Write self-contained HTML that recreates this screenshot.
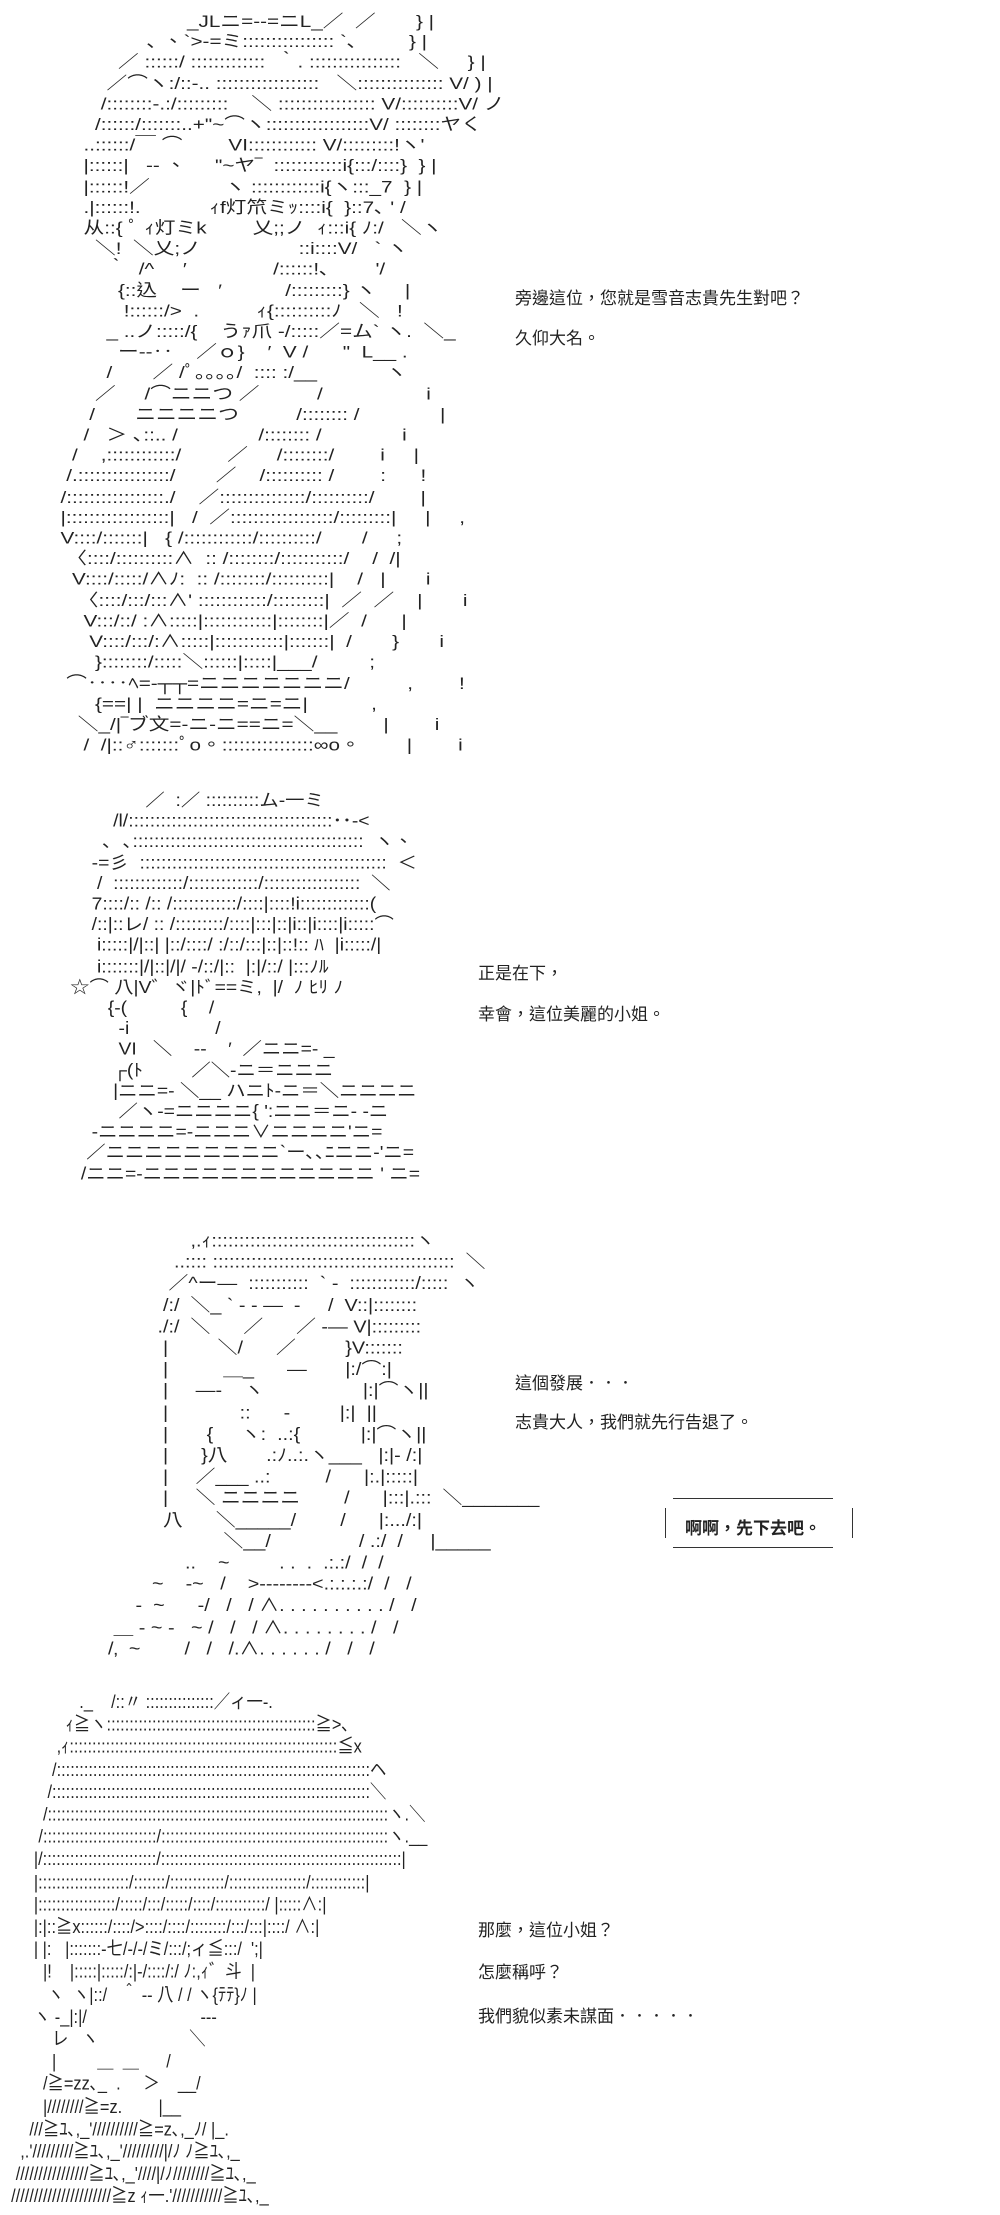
<!DOCTYPE html>
<html><head><meta charset="utf-8"><style>
html,body{margin:0;padding:0;background:#fff;width:1000px;height:2215px;overflow:hidden;position:relative}
pre{position:absolute;margin:0;font-family:"Liberation Sans","Noto Sans CJK TC",sans-serif;font-size:15px;line-height:18.2px;color:#222;white-space:pre;letter-spacing:0;transform-origin:0 0}
.t{position:absolute;font-family:"Liberation Sans","Noto Sans CJK TC",sans-serif;font-size:17px;color:#222;white-space:nowrap}
</style></head><body>
<pre style="left:49px;top:12px;transform:scale(1.38,1.136)">                        _JLニ=--=ニL_／  ／       } |
                 ､ 、`>‐=ミ:::::::::::::::: `､         } |
            ／ ::::::/ :::::::::::::  ｀. ::::::::::::::::   ＼     } |
          ／⌒ヽ:/::‐.. ::::::::::::::::::   ＼::::::::::::::: V/ ) |
         /::::::::‐.:/:::::::::    ＼ ::::::::::::::::: V/::::::::::V/ ノ
        /::::::/:::::::..+"~⌒ヽ::::::::::::::::::V/ ::::::::ヤく
      ..::::::/￣ ⌒        VI:::::::::::: V/:::::::::!ヽ'
      |::::::|   -- 、     "~ヤ‾  ::::::::::::i{:::/::::}  } |
      |::::::!／             ヽ ::::::::::::i{ヽ:::_7  } |
      .|::::::!.            ｨf灯笊ミｯ::::i{  }::7､ ' /
      从::{ ﾟ ｨ灯ミk        乂;;ノ  ｨ:::i{ ﾉ:/   ＼ヽ
        ＼!  ＼乂;ノ                 ::i::::V/   ` ヽ
          ｀  /^     ′               /::::::!､        '/
            {::込    ー   ′           /:::::::::} ヽ     |
             !::::::/>  .          ｨ{::::::::::ﾉ   ＼   !
          _ ..ノ:::::/{    うｧ爪 ‐/:::::／=ム` ヽ.  ＼_
            ー--‥    ／ｏ}    ′  V /      "  L__ .
          /       ／ /ﾟ｡｡｡｡/  :::: :/__            ヽ
        ／     /⌒ニニつ ／          /                  i
       /       ニニニニつ          /:::::::: /              |
      /   ＞ ､::.. /              /:::::::: /              i
    /    ,::::::::::::/        ／     /::::::::/        i     |
   /.::::::::::::::::/       ／    /:::::::::: /        :      !
  /:::::::::::::::::./    ／:::::::::::::::/::::::::::/        |
  |::::::::::::::::::|   /  ／::::::::::::::::::/:::::::::|     |     ,
  V::::/:::::::|   { /::::::::::::/::::::::::/       /     ;
   〈::::/::::::::::∧  :: /::::::::/:::::::::::/    /  /|
    V::::/:::::/∧ﾉ:  :: /::::::::/::::::::::|    /   |       i
     〈::::/:::/:::∧' ::::::::::::/:::::::::|  ／  ／    |       i
      V:::/::/ :∧:::::|::::::::::::|::::::::|／  /      |
       V::::/:::/:∧:::::|::::::::::::|:::::::|  /       }       i
        }::::::::/:::::＼::::::|:::::|___/         ;
   ⌒‥‥ﾍ=‐┬┬=ニニニニニニニ/          ,        !
        {==| |  ニニニニ=ニ=ニ|           ,
     ＼_/|‾ブ文=‐ニ‐ニ==ニ=＼__        |        i
      /  /|::♂:::::::ﾟo。::::::::::::::::∞o。        |        i</pre>
<div class="t" style="left:515px;top:284px">旁邊這位，您就是雪音志貴先生對吧？</div>
<div class="t" style="left:515px;top:324px">久仰大名。</div>

<pre style="left:54px;top:791px;transform:scale(1.29,1.14)">                 ／  :／ ::::::::::ム‐一ミ
           /l/::::::::::::::::::::::::::::::::::::::･･‐<
         ､  ､:::::::::::::::::::::::::::::::::::::::::::  ヽ、
       ‐=彡  ::::::::::::::::::::::::::::::::::::::::::::::  ＜
        /  :::::::::::::/:::::::::::::/::::::::::::::::::  ＼
       7::::/:: /:: /::::::::::::/::::|::::!i:::::::::::::(
       /::|::レ/ :: /:::::::::/::::|:::|::|i::|i::::|i:::::⌒
        i:::::|/|::| |::/::::/ :/::/:::|::|::!:: ﾊ  |i:::::/|
        i:::::::|/|::|/|/ ‐/::/|::  |:|/::/ |:::ﾉﾙ
   ☆⌒ 八|V゛ヾ|ﾄﾞ==ミ,  |/  ﾉ ﾋﾘ ﾉ
          {‐(          {    /
            ‐i                /
            VI   ＼    ‐‐    ′  ／ニニ=‐ _
           ┌(ﾄ         ／＼‐ニ＝ニニニ
           |ニニ=‐ ＼__ ハニﾄ‐ニ＝＼ニニニニ
            ／ヽ‐=ニニニニ{ ':ニニ＝ニ‐ ‐ニ
       -ニニニニ=‐ニニニ∨ニニニニ'ニ=
      ／ニニニニニニニニニ`ー､､ﾆニニ‐'ニ=
     /ニニ=‐ニニニニニニニニニニニニ ' ニ=</pre>
<div class="t" style="left:478px;top:959px">正是在下，</div>
<div class="t" style="left:478px;top:1000px">幸會，這位美麗的小姐。</div>

<pre style="left:97px;top:1231px;transform:scale(1.32,1.18)">                 ,.ｨ:::::::::::::::::::::::::::::::::::::ヽ
              ..:::: ::::::::::::::::::::::::::::::::::::::::::::  ＼
             ／^ー―  :::::::::::  ` ‐  ::::::::::::/:::::  ヽ
            /:/  ＼_ ` ‐ ‐ ―  ‐     /  V::|::::::::
           ./:/  ＼      ／      ／ ‐― V|:::::::::
            |         ＼/      ／         }V:::::::
            |          ＿_      ―       |:/⌒:|
            |     ―‐    ヽ                  |:|⌒ヽ||
            |             ::      ‐         |:|  ||
            |       {     ヽ:  ..:{           |:|⌒ヽ||
            |      }八       .:ﾉ..:.ヽ___   |:|‐ /:|
            |     ／___ ..:          /      |:.|:::::|
            |     ＼ ニニニニ        /      |:::|.:::  ＼_______
            八      ＼_____/        /      |:.../:|
                       ＼__/                / .:/  /     |_____
                ..    ~         . .  .  .:.:/  /  /
          ~    -~   /    >‐‐‐‐‐‐‐‐<.:.:.:.:/  /   /
       -  ~      -/   /   / ∧. . . . . . . . . . /   /
   ＿ - ~ -   ~ /   /   / ∧. . . . . . . . /   /
  /‚  ~        /   /   /.∧. . . . . . /   /   /</pre>
<div class="t" style="left:515px;top:1369px">這個發展．．．</div>
<div class="t" style="left:515px;top:1408px">志貴大人，我們就先行告退了。</div>
<div style="position:absolute;left:665px;top:1498px;width:188px;height:50px">
 <div style="position:absolute;left:8px;top:0;width:160px;border-top:1px solid #333"></div>
 <div style="position:absolute;left:0;top:10px;height:30px;border-left:1px solid #333"></div>
 <div style="position:absolute;right:0;top:10px;height:30px;border-right:1px solid #333"></div>
 <div style="position:absolute;left:8px;bottom:0;width:160px;border-top:1px solid #333"></div>
</div>
<div class="t" style="left:685px;top:1514px;font-weight:bold">啊啊，先下去吧。</div>

<pre style="left:-7px;top:1692px;transform:scale(1.09,1.235)">                   ._    /::〃 :::::::::::::::／ィ一‐.
                ｨ≧ヽ::::::::::::::::::::::::::::::::::::::::::::::≧>､
              ,ｨ:::::::::::::::::::::::::::::::::::::::::::::::::::::::::::≦x
             /:::::::::::::::::::::::::::::::::::::::::::::::::::::::::::::::::::::ヘ
            /::::::::::::::::::::::::::::::::::::::::::::::::::::::::::::::::::::::＼
           /:::::::::::::::::::::::::::::::::::::::::::::::::::::::::::::::::::::::::::ヽ.＼
          /:::::::::::::::::::::::::/::::::::::::::::::::::::::::::::::::::::::::::::::ヽ.__
         |/:::::::::::::::::::::::::/:::::::::::::::::::::::::::::::::::::::::::::::::::::|
         |::::::::::::::::::::/:::::::/::::::::::::/:::::::::::::::::/::::::::::::|
         |:::::::::::::::::/:::::/:::/:::::/::::/:::::::::::/ |:::::∧:|
         |:|::≧x::::::/::::/>::::/::::/::::::::/:::/:::|::::/ ∧:|
         | |:   |:::::::‐七/‐/‐/ミ/:::/;ィ≦:::/  ';|
           |!    |:::::|:::::/:|‐/::::/:/ ﾉ:,ｨ゛斗  |
            ヽ  ヽ|::/   ＾ ‐‐ 八 / / ヽ{ﾃﾃ}ﾉ |
         ヽ ‐_|:|/                         ‐‐‐
             レ   ヽ                    ＼
             |         ＿  ＿      /
           /≧=zz､_  .     ＞    __/
           |////////≧=z.        |__
        ///≧ﾕ､,_'//////////≧=z､,_ﾉ/ |_.
      ,.'/////////≧ﾕ､,_'/////////|/ﾉ ﾉ≧ﾕ､,_
     ////////////////≧ﾕ､,_'////|/ﾉ////////≧ﾕ､,_
    //////////////////////≧z ｨ一.'///////////≧ﾕ､,_</pre>
<div class="t" style="left:478px;top:1916px">那麼，這位小姐？</div>
<div class="t" style="left:478px;top:1958px">怎麼稱呼？</div>
<div class="t" style="left:478px;top:2002px">我們貌似素未謀面．．．．．</div>
</body></html>
